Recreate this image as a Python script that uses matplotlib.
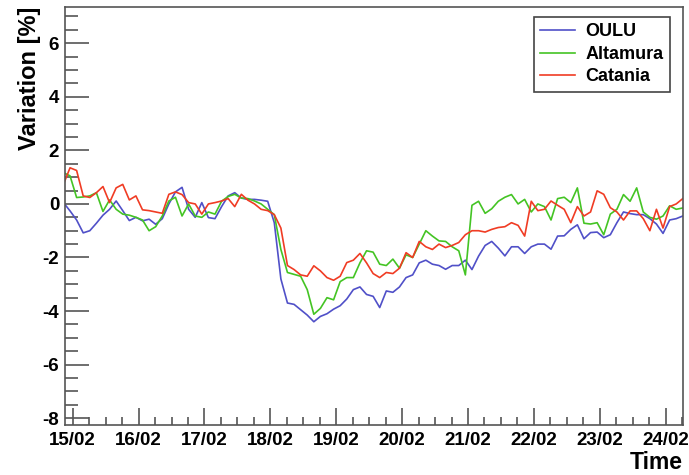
import numpy as np
import pandas as pd
import matplotlib
matplotlib.use("Agg")
import matplotlib.pyplot as plt
import matplotlib.dates as mdates

plt.rcParams['font.family'] = ['Liberation Sans', 'DejaVu Sans']
plt.rcParams['font.weight'] = 'bold'
plt.rcParams['axes.unicode_minus'] = False

# time stamps of the readings (every 2.4 h)
times = pd.date_range('2011-02-14 20:38', periods=95, freq='144min')

# neutron monitor variation in %
oulu = [0.05, -0.26, -0.6, -1.08, -1.0, -0.72, -0.42, -0.2, 0.11, -0.25,
        -0.62, -0.5, -0.63, -0.57, -0.76, -0.55, 0.0, 0.45, 0.62, -0.2,
        -0.5, 0.05, -0.51, -0.55, -0.1, 0.3, 0.42, 0.22, 0.17, 0.17,
        0.14, 0.1, -0.7, -2.8, -3.7, -3.75, -3.95, -4.15, -4.4, -4.2,
        -4.1, -3.93, -3.8, -3.55, -3.2, -3.1, -3.38, -3.45, -3.87, -3.25,
        -3.3, -3.1, -2.75, -2.65, -2.2, -2.1, -2.25, -2.3, -2.44, -2.3,
        -2.3, -2.1, -2.45, -1.95, -1.55, -1.4, -1.65, -1.94, -1.6, -1.6,
        -1.85, -1.6, -1.5, -1.5, -1.69, -1.2, -1.19, -0.95, -0.78, -1.3,
        -1.07, -1.05, -1.26, -1.15, -0.7, -0.3, -0.36, -0.4, -0.4, -0.55,
        -0.75, -1.1, -0.6, -0.55, -0.45]
altamura = [1.17, 1.05, 0.24, 0.26, 0.3, 0.42, -0.28, 0.15, -0.2, -0.38,
            -0.42, -0.5, -0.6, -1.0, -0.85, -0.45, 0.11, 0.25, -0.45, 0.0,
            -0.45, -0.5, -0.3, -0.38, 0.1, 0.28, 0.36, 0.22, 0.2, 0.11,
            0.0, -0.2, -0.4, -1.7, -2.56, -2.63, -2.7, -3.2, -4.12, -3.9,
            -3.5, -3.58, -2.9, -2.75, -2.75, -2.2, -1.75, -1.8, -2.25, -2.3,
            -2.06, -2.4, -1.9, -2.0, -1.5, -1.0, -1.2, -1.38, -1.4, -1.6,
            -1.75, -2.65, -0.05, 0.1, -0.35, -0.18, 0.1, 0.25, 0.35, 0.0,
            0.17, -0.3, 0.0, -0.1, -0.6, 0.2, 0.25, 0.05, 0.6, -0.72,
            -0.75, -0.7, -1.15, -0.38, -0.2, 0.35, 0.1, 0.6, -0.3, -0.5,
            -0.57, -0.45, -0.07, -0.2, -0.15]
catania = [0.73, 1.35, 1.25, 0.3, 0.24, 0.42, 0.65, 0.05, 0.6, 0.73,
           0.15, 0.3, -0.22, -0.25, -0.3, -0.35, 0.36, 0.45, 0.35, 0.05,
           0.0, -0.38, 0.0, 0.05, 0.11, 0.2, -0.1, 0.36, 0.14, 0.0,
           -0.2, -0.25, -0.4, -0.9, -2.3, -2.45, -2.65, -2.7, -2.31, -2.5,
           -2.75, -2.85, -2.7, -2.19, -2.1, -1.85, -2.2, -2.6, -2.75, -2.56,
           -2.6, -2.4, -1.82, -2.0, -1.4, -1.6, -1.7, -1.5, -1.63, -1.55,
           -1.44, -1.15, -1.0, -1.0, -1.05, -0.95, -0.88, -0.85, -0.7, -0.8,
           -1.2, 0.1, -0.25, -0.2, 0.11, -0.05, -0.2, -0.7, -0.1, -0.45,
           -0.3, 0.49, 0.36, -0.14, -0.3, -0.6, -0.26, -0.26, -0.55, -1.0,
           -0.2, -0.9, -0.1, 0.0, 0.2]

fig = plt.figure(figsize=(6.89, 4.75), dpi=100)
ax = fig.add_axes([0.094, 0.105, 0.897, 0.88])

ax.plot(times, oulu, color='#5050c8', lw=1.2, label='OULU')
ax.plot(times, altamura, color='#44c424', lw=1.2, label='Altamura')
ax.plot(times, catania, color='#f03c24', lw=1.2, label='Catania')

ax.set_xlim(pd.Timestamp('2011-02-14 21:07'), pd.Timestamp('2011-02-24 06:14'))
ax.set_ylim(-8.26, 7.35)

ax.xaxis.set_major_locator(mdates.DayLocator())
ax.xaxis.set_major_formatter(mdates.DateFormatter('%d/%m'))
ax.xaxis.set_minor_locator(mdates.HourLocator(byhour=[6, 12, 18]))
ax.set_yticks([-8, -6, -4, -2, 0, 2, 4, 6])
ax.set_yticks(np.arange(-8, 7.1, 0.5), minor=True)

for s in ax.spines.values():
    s.set_color('#555555')
    s.set_linewidth(1.2)
ax.tick_params(axis='x', which='major', direction='in', length=12, width=1.2,
               color='#555555', labelsize=13.5, pad=5)
ax.tick_params(axis='x', which='minor', direction='in', length=6, width=1.2,
               color='#555555')
ax.tick_params(axis='y', which='major', direction='in', length=17, width=1.2,
               color='#555555', labelsize=13.5, pad=4)
ax.tick_params(axis='y', which='minor', direction='in', length=9, width=1.2,
               color='#555555')

fig.text(0.043, 0.985, 'Variation [%]', rotation=90, ha='center', va='top',
         fontsize=17, fontweight='bold')
fig.text(0.991, 0.027, 'Time', ha='right', va='center',
         fontsize=16.5, fontweight='bold')

leg = ax.legend(loc='upper right', bbox_to_anchor=(0.979, 0.976), borderaxespad=0,
                fancybox=False, framealpha=1, edgecolor='#444444',
                handlelength=1.9, handletextpad=0.6, fontsize=13,
                borderpad=0.35, labelspacing=0.3)
leg.get_frame().set_linewidth(1.2)
for t in leg.get_texts():
    t.set_fontweight('bold')

fig.savefig('out.png', dpi=100)
